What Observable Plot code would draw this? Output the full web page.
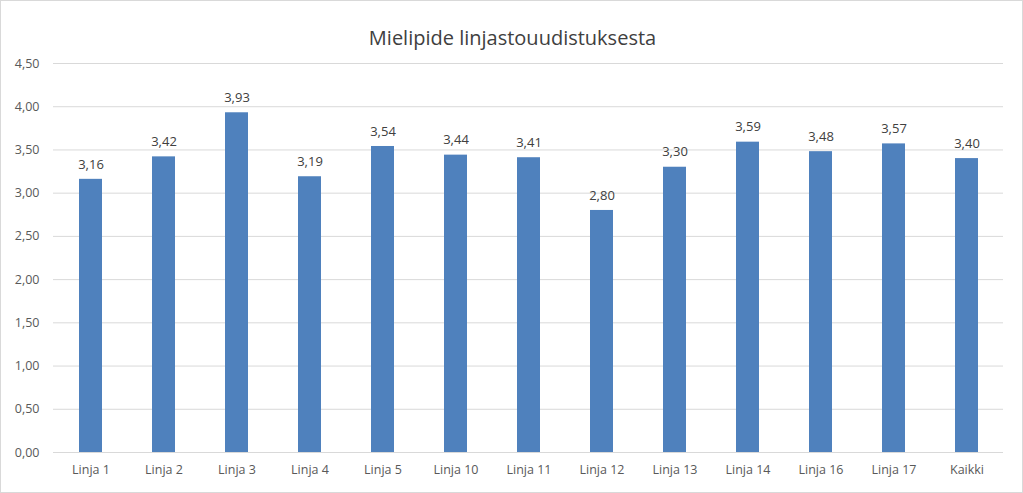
<!DOCTYPE html>
<html>
<head>
<meta charset="utf-8">
<script src="https://cdn.jsdelivr.net/npm/d3@7"></script>
<script src="https://cdn.jsdelivr.net/npm/@observablehq/plot@0.6"></script>
<style>
  html, body { margin: 0; padding: 0; background: #fff; }
  #chart svg { display: block; outline: 1px solid #d9d9d9; outline-offset: -1px; }
</style>
</head>
<body>
<div id="chart"></div>
<script>
const title = "Mielipide linjastouudistuksesta";
const categories = ["Linja 1","Linja 2","Linja 3","Linja 4","Linja 5","Linja 10","Linja 11","Linja 12","Linja 13","Linja 14","Linja 16","Linja 17","Kaikki"];
const values = [3.16,3.42,3.93,3.19,3.54,3.44,3.41,2.80,3.30,3.59,3.48,3.57,3.40];
const yTicks = [0,0.5,1,1.5,2,2.5,3,3.5,4,4.5];

const data = categories.map((c, i) => ({category: c, value: values[i]}));
const fmt = v => d3.format(".2f")(v).replace(".", ",");
const font = "'Open Sans', 'Liberation Sans', sans-serif";

const chart = Plot.plot({
  width: 1023,
  height: 493,
  marginLeft: 53,
  marginRight: 20,
  marginTop: 63,
  marginBottom: 41,
  style: {fontFamily: font, fontSize: "12px", color: "#595959", background: "#fff"},
  x: {domain: categories, paddingInner: 0.685, paddingOuter: 0.3425, label: null},
  y: {domain: [0, 4.5], label: null},
  marks: [
    Plot.gridY(yTicks, {stroke: "#d9d9d9", strokeOpacity: 1}),
    Plot.barY(data, {x: "category", y: "value", fill: "#4f81bd"}),
    Plot.text(data, {x: "category", y: "value", text: d => fmt(d.value), dy: -15, fill: "#404040", fontSize: 13}),
    Plot.axisY(yTicks, {tickFormat: fmt, tickSize: 0, tickPadding: 14, fontSize: 12.5, fill: "#595959"}),
    Plot.axisX({tickSize: 0, tickPadding: 13, fontSize: 12.5, fill: "#595959"}),
    Plot.text([title], {frameAnchor: "top", dy: -33, dx: -16, fontSize: 20, fill: "#404040", text: d => d})
  ]
});
document.getElementById("chart").appendChild(chart);
</script>
</body>
</html>
